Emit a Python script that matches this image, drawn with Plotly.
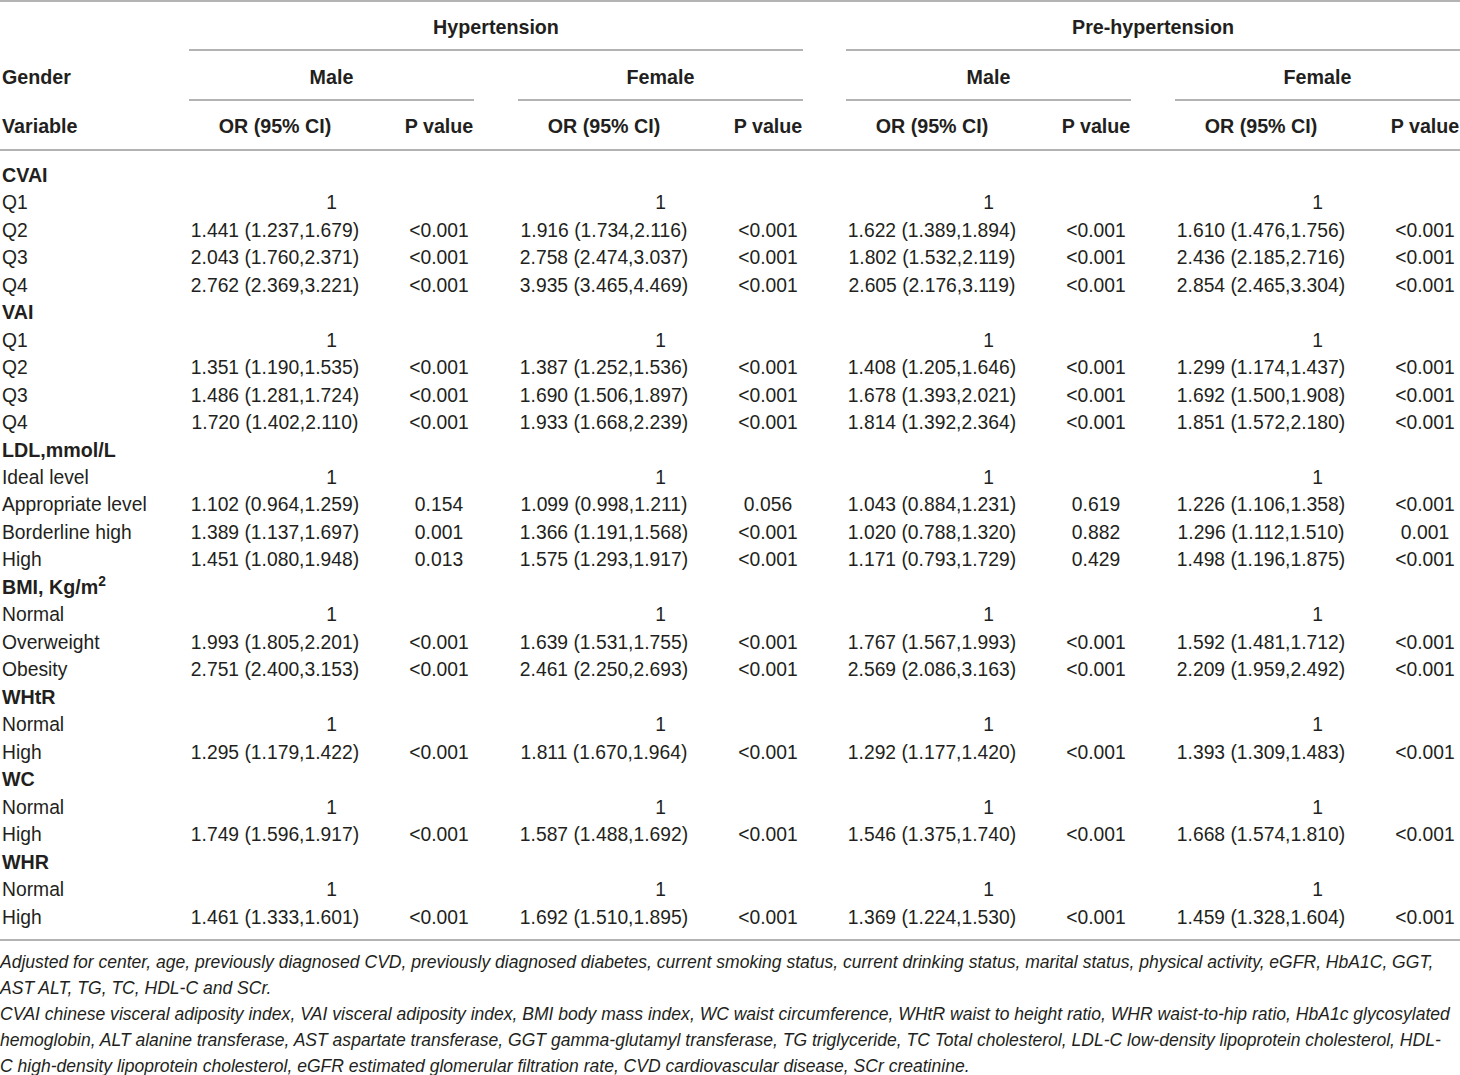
import plotly.graph_objects as go

# ---------------- data ----------------
top_headers = ["Hypertension", "Pre-hypertension"]
gender_headers = ["Male", "Female", "Male", "Female"]
col_headers = ["OR (95% CI)", "P value"]

groups = ["CVAI", "VAI", "LDL,mmol/L", "BMI, Kg/m<sup>2</sup>", "WHtR", "WC", "WHR"]
group_levels = [
    ["Q1", "Q2", "Q3", "Q4"],
    ["Q1", "Q2", "Q3", "Q4"],
    ["Ideal level", "Appropriate level", "Borderline high", "High"],
    ["Normal", "Overweight", "Obesity"],
    ["Normal", "High"],
    ["Normal", "High"],
    ["Normal", "High"],
]

hyp_male_or = ["1", "1.441 (1.237,1.679)", "2.043 (1.760,2.371)", "2.762 (2.369,3.221)",
               "1", "1.351 (1.190,1.535)", "1.486 (1.281,1.724)", "1.720 (1.402,2.110)",
               "1", "1.102 (0.964,1.259)", "1.389 (1.137,1.697)", "1.451 (1.080,1.948)",
               "1", "1.993 (1.805,2.201)", "2.751 (2.400,3.153)",
               "1", "1.295 (1.179,1.422)",
               "1", "1.749 (1.596,1.917)",
               "1", "1.461 (1.333,1.601)"]
hyp_male_p = ["", "<0.001", "<0.001", "<0.001",
              "", "<0.001", "<0.001", "<0.001",
              "", "0.154", "0.001", "0.013",
              "", "<0.001", "<0.001",
              "", "<0.001",
              "", "<0.001",
              "", "<0.001"]

hyp_female_or = ["1", "1.916 (1.734,2.116)", "2.758 (2.474,3.037)", "3.935 (3.465,4.469)",
                 "1", "1.387 (1.252,1.536)", "1.690 (1.506,1.897)", "1.933 (1.668,2.239)",
                 "1", "1.099 (0.998,1.211)", "1.366 (1.191,1.568)", "1.575 (1.293,1.917)",
                 "1", "1.639 (1.531,1.755)", "2.461 (2.250,2.693)",
                 "1", "1.811 (1.670,1.964)",
                 "1", "1.587 (1.488,1.692)",
                 "1", "1.692 (1.510,1.895)"]
hyp_female_p = ["", "<0.001", "<0.001", "<0.001",
                "", "<0.001", "<0.001", "<0.001",
                "", "0.056", "<0.001", "<0.001",
                "", "<0.001", "<0.001",
                "", "<0.001",
                "", "<0.001",
                "", "<0.001"]

pre_male_or = ["1", "1.622 (1.389,1.894)", "1.802 (1.532,2.119)", "2.605 (2.176,3.119)",
               "1", "1.408 (1.205,1.646)", "1.678 (1.393,2.021)", "1.814 (1.392,2.364)",
               "1", "1.043 (0.884,1.231)", "1.020 (0.788,1.320)", "1.171 (0.793,1.729)",
               "1", "1.767 (1.567,1.993)", "2.569 (2.086,3.163)",
               "1", "1.292 (1.177,1.420)",
               "1", "1.546 (1.375,1.740)",
               "1", "1.369 (1.224,1.530)"]
pre_male_p = ["", "<0.001", "<0.001", "<0.001",
              "", "<0.001", "<0.001", "<0.001",
              "", "0.619", "0.882", "0.429",
              "", "<0.001", "<0.001",
              "", "<0.001",
              "", "<0.001",
              "", "<0.001"]

pre_female_or = ["1", "1.610 (1.476,1.756)", "2.436 (2.185,2.716)", "2.854 (2.465,3.304)",
                 "1", "1.299 (1.174,1.437)", "1.692 (1.500,1.908)", "1.851 (1.572,2.180)",
                 "1", "1.226 (1.106,1.358)", "1.296 (1.112,1.510)", "1.498 (1.196,1.875)",
                 "1", "1.592 (1.481,1.712)", "2.209 (1.959,2.492)",
                 "1", "1.393 (1.309,1.483)",
                 "1", "1.668 (1.574,1.810)",
                 "1", "1.459 (1.328,1.604)"]
pre_female_p = ["", "<0.001", "<0.001", "<0.001",
                "", "<0.001", "<0.001", "<0.001",
                "", "<0.001", "0.001", "<0.001",
                "", "<0.001", "<0.001",
                "", "<0.001",
                "", "<0.001",
                "", "<0.001"]

footnotes = [
    "Adjusted for center, age, previously diagnosed CVD, previously diagnosed diabetes, current smoking status, current drinking status, marital status, physical activity, eGFR, HbA1C, GGT,",
    "AST ALT, TG, TC, HDL-C and SCr.",
    "CVAI chinese visceral adiposity index, VAI visceral adiposity index, BMI body mass index, WC waist circumference, WHtR waist to height ratio, WHR waist-to-hip ratio, HbA1c glycosylated",
    "hemoglobin, ALT alanine transferase, AST aspartate transferase, GGT gamma-glutamyl transferase, TG triglyceride, TC Total cholesterol, LDL-C low-density lipoprotein cholesterol, HDL-",
    "C high-density lipoprotein cholesterol, eGFR estimated glomerular filtration rate, CVD cardiovascular disease, SCr creatinine.",
]

# ---------------- layout constants ----------------
W, H = 1460, 1075
FONT = "Liberation Sans, Arial, Helvetica, sans-serif"
TXT = "#231f20"
RULE = "#9a9a9a"
FS = 19.3
FS_HEAD = 19.7
FS_FOOT = 17.55
DY = 2  # vertical adjust for plotly text baseline

block_spans = [(189, 803), (846, 1460)]
sub_spans = [(189, 474), (518, 803), (846, 1131), (1175, 1460)]
OR_OFF, P_OFF = 86, 35
Y_TOP, Y_GENDER, Y_VAR = 27, 77, 126
Y_L1, Y_L2, Y_HDR = 50, 100, 150
ROW0, ROW_STEP = 175, 27.47
Y_BOTTOM = 940
FOOT0, FOOT_STEP = 962, 25.8

fig = go.Figure()


def add_text(xs, ys, texts, pos="middle center", bold=False, italic=False, size=FS):
    fig.add_trace(go.Scatter(
        x=xs, y=[y + DY for y in ys], text=texts, mode="text",
        textposition=pos, hoverinfo="skip", showlegend=False,
        textfont=dict(family=FONT, size=size, color=TXT,
                      weight="bold" if bold else "normal",
                      style="italic" if italic else "normal"),
    ))


# headers
add_text([(a + b) / 2 for a, b in block_spans], [Y_TOP] * 2, top_headers, bold=True, size=FS_HEAD)
add_text([2], [Y_GENDER], ["Gender"], pos="middle right", bold=True, size=FS_HEAD)
add_text([(a + b) / 2 for a, b in sub_spans], [Y_GENDER] * 4, gender_headers, bold=True, size=FS_HEAD)
add_text([2], [Y_VAR], ["Variable"], pos="middle right", bold=True, size=FS_HEAD)
add_text([a + OR_OFF for a, b in sub_spans], [Y_VAR] * 4, [col_headers[0]] * 4, bold=True, size=FS_HEAD)
add_text([b - P_OFF for a, b in sub_spans], [Y_VAR] * 4, [col_headers[1]] * 4, bold=True, size=FS_HEAD)

# rows
row = 0
grp_y, lvl_y, lvl_t = [], [], []
data_rows_y = []
for g, levels in zip(groups, group_levels):
    grp_y.append(ROW0 + ROW_STEP * row)
    row += 1
    for lv in levels:
        y = ROW0 + ROW_STEP * row
        lvl_y.append(y)
        lvl_t.append(lv)
        data_rows_y.append(y)
        row += 1

add_text([2] * len(groups), grp_y, groups, pos="middle right", bold=True, size=FS_HEAD)
add_text([2] * len(lvl_t), lvl_y, lvl_t, pos="middle right")

cols = [(hyp_male_or, hyp_male_p), (hyp_female_or, hyp_female_p),
        (pre_male_or, pre_male_p), (pre_female_or, pre_female_p)]
for (a, b), (ors, ps) in zip(sub_spans, cols):
    xs, ys, ts = [], [], []
    for y, o in zip(data_rows_y, ors):
        xs.append((a + b) / 2 if o == "1" else a + OR_OFF)
        ys.append(y)
        ts.append(o)
    add_text(xs, ys, ts)
    pxs = [b - P_OFF for p in ps if p]
    pys = [y for y, p in zip(data_rows_y, ps) if p]
    add_text(pxs, pys, [p for p in ps if p])

# footnotes
add_text([0] * len(footnotes), [FOOT0 + FOOT_STEP * i for i in range(len(footnotes))],
         footnotes, pos="middle right", italic=True, size=FS_FOOT)

# rules
shapes = []


def hline(x0, x1, y):
    shapes.append(dict(type="line", xref="x", yref="y", x0=x0, x1=x1, y0=y, y1=y,
                       line=dict(color=RULE, width=1.6)))


hline(0, W, 1)
for a, b in block_spans:
    hline(a, b, Y_L1)
for a, b in sub_spans:
    hline(a, b, Y_L2)
hline(0, W, Y_HDR)
hline(0, W, Y_BOTTOM)

fig.update_layout(
    width=W, height=H, margin=dict(l=0, r=0, t=0, b=0),
    paper_bgcolor="white", plot_bgcolor="white",
    xaxis=dict(range=[0, W], visible=False, fixedrange=True),
    yaxis=dict(range=[H, 0], visible=False, fixedrange=True),
    shapes=shapes,
)

fig.write_html("out.html", config={"displayModeBar": False},
               post_script="document.body.style.margin='0';document.body.style.overflow='hidden';")
